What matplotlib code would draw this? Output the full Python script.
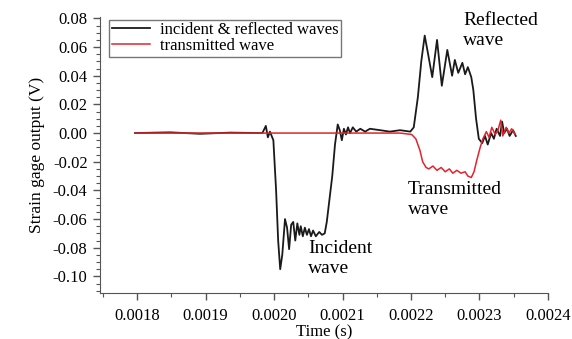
import numpy as np
import matplotlib
matplotlib.use('Agg')
import matplotlib.pyplot as plt
from matplotlib.ticker import MultipleLocator, FuncFormatter

plt.rcParams['font.family'] = ['Liberation Serif', 'DejaVu Serif']

# incident & reflected waves (black), time in s, output in V
t_black = [0.001797, 0.001848, 0.001892, 0.001936, 0.001983, 0.001988, 0.001991,
           0.001994, 0.001999, 0.002003, 0.002006, 0.002009, 0.002012, 0.002016,
           0.002019, 0.002022, 0.002025, 0.002028, 0.002031, 0.002034, 0.002037,
           0.002039, 0.002042, 0.002045, 0.002048, 0.002051, 0.002054, 0.002057,
           0.002061, 0.002066, 0.002070, 0.002074, 0.002077, 0.002080, 0.002085,
           0.002089, 0.002093, 0.002096, 0.002099, 0.002102, 0.002105, 0.002108,
           0.002111, 0.002115, 0.002120, 0.002126, 0.002133, 0.002140, 0.002155,
           0.002169, 0.002184, 0.002199, 0.002204, 0.002210, 0.002215, 0.002220,
           0.002225, 0.002231, 0.002238, 0.002245, 0.002253, 0.002260, 0.002264,
           0.002269, 0.002275, 0.002279, 0.002283, 0.002288, 0.002291, 0.002295,
           0.002299, 0.002304, 0.002308, 0.002312, 0.002317, 0.002321, 0.002325,
           0.002330, 0.002333, 0.002336, 0.002340, 0.002344, 0.002349, 0.002353]
v_black = [0.000, 0.0005, -0.0005, 0.0003, 0.000, 0.005, -0.003,
           0.001, -0.005, -0.040, -0.075, -0.095, -0.085, -0.060,
           -0.066, -0.081, -0.064, -0.062, -0.075, -0.063, -0.071,
           -0.065, -0.072, -0.066, -0.071, -0.067, -0.072, -0.068,
           -0.072, -0.069, -0.071, -0.070, -0.062, -0.050, -0.030,
           -0.008, 0.006, 0.002, -0.005, 0.003, -0.001, 0.004,
           0.000, 0.004, 0.001, 0.003, 0.001, 0.003, 0.002,
           0.001, 0.002, 0.001, 0.004, 0.025, 0.050, 0.068,
           0.055, 0.039, 0.065, 0.033, 0.058, 0.040, 0.051,
           0.042, 0.049, 0.041, 0.046, 0.039, 0.030, 0.010,
           -0.004, -0.007, -0.002, -0.008, 0.000, -0.004, 0.003,
           -0.002, 0.008, 0.000, 0.003, -0.002, 0.002, -0.002]

# transmitted wave (red)
t_red = [0.001797, 0.001892, 0.002038, 0.002184, 0.002201, 0.002207, 0.002213,
         0.002217, 0.002222, 0.002226, 0.002232, 0.002238, 0.002244, 0.002250,
         0.002256, 0.002261, 0.002267, 0.002273, 0.002279, 0.002283, 0.002288,
         0.002292, 0.002296, 0.002301, 0.002305, 0.002310, 0.002314, 0.002318,
         0.002323, 0.002327, 0.002331, 0.002334, 0.002339, 0.002343, 0.002347,
         0.002352]
v_red = [0.000, 0.000, 0.000, 0.000, -0.001, -0.004, -0.012,
         -0.020, -0.024, -0.025, -0.023, -0.026, -0.024, -0.027,
         -0.025, -0.028, -0.026, -0.028, -0.027, -0.030, -0.031,
         -0.027, -0.019, -0.010, -0.004, 0.001, -0.003, 0.004,
         -0.001, 0.002, 0.009, -0.002, 0.004, 0.000, 0.003,
         -0.001]

fig = plt.figure(figsize=(5.72, 3.39), dpi=100)
ax = fig.add_axes([0.175, 0.136, 0.783, 0.814])

ax.plot(t_black, v_black, color='#1a1a1a', lw=1.3, label='incident & reflected waves')
ax.plot(t_red, v_red, color='#e3232c', lw=1.1, label='transmitted wave')

ax.set_xlim(0.001746, 0.0024)
ax.set_ylim(-0.1115, 0.081)
ax.xaxis.set_major_locator(MultipleLocator(0.0001))
ax.xaxis.set_minor_locator(MultipleLocator(0.00005))
ax.yaxis.set_major_locator(MultipleLocator(0.02))
ax.yaxis.set_minor_locator(MultipleLocator(0.005))
ax.xaxis.set_major_formatter(FuncFormatter(lambda v, p: '%.4f' % v))
ax.yaxis.set_major_formatter(FuncFormatter(lambda v, p: '%.2f' % (0.0 if abs(v) < 1e-9 else v)))

for s in ['top', 'right']:
    ax.spines[s].set_visible(False)
for s in ['left', 'bottom']:
    ax.spines[s].set_color('#555555')
ax.tick_params(which='major', length=5, width=1, color='#555555', labelsize=12)
ax.tick_params(axis='x', which='major', pad=6)
ax.tick_params(axis='y', which='major', pad=4)
ax.tick_params(which='minor', length=3, width=0.8, color='#555555')

ax.set_xlabel('Time (s)', fontsize=12, labelpad=0)
ax.set_ylabel('Strain gage output (V)', fontsize=12.5, labelpad=6)

leg = ax.legend(loc='upper left', bbox_to_anchor=(0.02, 0.99), fontsize=12,
                frameon=True, fancybox=False, edgecolor='#555555',
                handlelength=2.3, borderpad=0.15, labelspacing=0.0,
                handletextpad=0.6, borderaxespad=0)
leg.get_frame().set_linewidth(1.0)

ax.text(0.0022759, 0.0845, 'Reflected\nwave', fontsize=14, va='top', ha='left',
        linespacing=1.25)
ax.text(0.0020496, -0.0745, 'Incident\nwave', fontsize=14, va='top', ha='left',
        linespacing=1.25)
ax.text(0.0021956, -0.0335, 'Transmitted\nwave', fontsize=14, va='top', ha='left',
        linespacing=1.25)

fig.savefig('out.png', dpi=100)
